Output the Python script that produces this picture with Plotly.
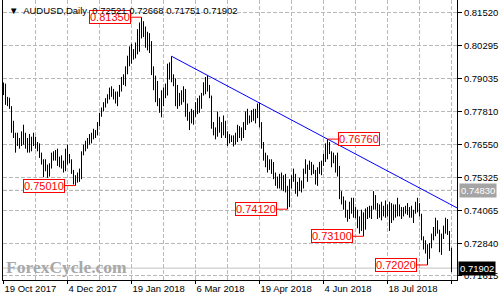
import plotly.graph_objects as go

# ---------------- data ----------------
date_labels = ["19 Oct 2017", "4 Dec 2017", "19 Jan 2018", "6 Mar 2018",
               "19 Apr 2018", "4 Jun 2018", "18 Jul 2018", "31 Aug 2018"]
date_label_idx = [0, 32, 64, 96, 128, 160, 192, 224]

lows = [
    0.7842, 0.7805, 0.7800, 0.7790, 0.7700, 0.7680, 0.7625, 0.7650, 0.7640, 0.7650,
    0.7655, 0.7640, 0.7625, 0.7625, 0.7630, 0.7650, 0.7640, 0.7630, 0.7605, 0.7580,
    0.7532, 0.7555, 0.7530, 0.7535, 0.7565, 0.7595, 0.7595, 0.7575, 0.7570, 0.7565,
    0.7550, 0.7555, 0.7580, 0.7585, 0.7545, 0.7505, 0.7501, 0.7512, 0.7515, 0.7525,
    0.7615, 0.7630, 0.7640, 0.7655, 0.7660, 0.7675, 0.7680, 0.7690, 0.7725, 0.7760,
    0.7780, 0.7795, 0.7810, 0.7825, 0.7835, 0.7825, 0.7810, 0.7800, 0.7835, 0.7855,
    0.7880, 0.7875, 0.7920, 0.7950, 0.7960, 0.7975, 0.7980, 0.7995, 0.8005, 0.8055,
    0.8060, 0.8020, 0.8010, 0.8000, 0.7917, 0.7860, 0.7815, 0.7800, 0.7775, 0.7758,
    0.7800, 0.7830, 0.7840, 0.7900, 0.7890, 0.7875, 0.7800, 0.7790, 0.7800, 0.7805,
    0.7815, 0.7760, 0.7745, 0.7710, 0.7735, 0.7730, 0.7760, 0.7770, 0.7775, 0.7790,
    0.7840, 0.7845, 0.7855, 0.7830, 0.7715, 0.7690, 0.7675, 0.7685, 0.7700, 0.7680,
    0.7690, 0.7680, 0.7650, 0.7660, 0.7665, 0.7648, 0.7655, 0.7665, 0.7680, 0.7670,
    0.7680, 0.7710, 0.7730, 0.7735, 0.7740, 0.7745, 0.7735, 0.7755, 0.7720, 0.7640,
    0.7595, 0.7570, 0.7550, 0.7560, 0.7545, 0.7525, 0.7500, 0.7490, 0.7490, 0.7485,
    0.7480, 0.7475, 0.7412, 0.7420, 0.7490, 0.7515, 0.7470, 0.7460, 0.7480, 0.7475,
    0.7490, 0.7545, 0.7515, 0.7560, 0.7540, 0.7545, 0.7505, 0.7500, 0.7545, 0.7540,
    0.7575, 0.7590, 0.7600, 0.7620, 0.7570, 0.7585, 0.7550, 0.7535, 0.7450, 0.7430,
    0.7410, 0.7380, 0.7365, 0.7375, 0.7395, 0.7380, 0.7378, 0.7340, 0.7320, 0.7330,
    0.7310, 0.7335, 0.7375, 0.7380, 0.7375, 0.7410, 0.7410, 0.7375, 0.7380, 0.7370,
    0.7385, 0.7380, 0.7385, 0.7330, 0.7360, 0.7370, 0.7380, 0.7385, 0.7385, 0.7375,
    0.7385, 0.7395, 0.7390, 0.7380, 0.7380, 0.7360, 0.7395, 0.7400, 0.7385, 0.7295,
    0.7260, 0.7245, 0.7202, 0.7225, 0.7265, 0.7295, 0.7310, 0.7320, 0.7250, 0.7240,
    0.7300, 0.7320, 0.7315, 0.7255, 0.71751,
]
highs = [
    0.7889, 0.7885, 0.7835, 0.7832, 0.7800, 0.7745, 0.7700, 0.7700, 0.7680, 0.7705,
    0.7730, 0.7700, 0.7680, 0.7695, 0.7685, 0.7700, 0.7685, 0.7665, 0.7660, 0.7625,
    0.7600, 0.7600, 0.7580, 0.7585, 0.7625, 0.7630, 0.7635, 0.7640, 0.7610, 0.7615,
    0.7595, 0.7640, 0.7655, 0.7620, 0.7600, 0.7560, 0.7540, 0.7550, 0.7565, 0.7630,
    0.7655, 0.7670, 0.7680, 0.7695, 0.7700, 0.7715, 0.7710, 0.7740, 0.7775, 0.7795,
    0.7815, 0.7830, 0.7845, 0.7870, 0.7875, 0.7865, 0.7855, 0.7855, 0.7880, 0.7910,
    0.7920, 0.7950, 0.7990, 0.8025, 0.8035, 0.8015, 0.8040, 0.8090, 0.8115, 0.8135,
    0.8120, 0.8100, 0.8080, 0.8075, 0.8045, 0.7950, 0.7915, 0.7895, 0.7830, 0.7860,
    0.7870, 0.7885, 0.7960, 0.7965, 0.7988, 0.7920, 0.7905, 0.7880, 0.7850, 0.7860,
    0.7875, 0.7865, 0.7810, 0.7778, 0.7790, 0.7785, 0.7815, 0.7830, 0.7840, 0.7850,
    0.7890, 0.7910, 0.7917, 0.7880, 0.7840, 0.7740, 0.7720, 0.7780, 0.7760, 0.7740,
    0.7765, 0.7745, 0.7705, 0.7695, 0.7690, 0.7690, 0.7700, 0.7730, 0.7725, 0.7720,
    0.7740, 0.7780, 0.7790, 0.7765, 0.7785, 0.7790, 0.7790, 0.7810, 0.7813, 0.7740,
    0.7665, 0.7625, 0.7615, 0.7600, 0.7600, 0.7590, 0.7550, 0.7535, 0.7545, 0.7550,
    0.7540, 0.7545, 0.7500, 0.7525, 0.7540, 0.7565, 0.7545, 0.7515, 0.7530, 0.7520,
    0.7565, 0.7600, 0.7580, 0.7595, 0.7590, 0.7580, 0.7560, 0.7570, 0.7590, 0.7595,
    0.7620, 0.7660, 0.7676, 0.7665, 0.7630, 0.7625, 0.7615, 0.7625, 0.7575, 0.7480,
    0.7460, 0.7445, 0.7410, 0.7440, 0.7455, 0.7455, 0.7420, 0.7410, 0.7385, 0.7410,
    0.7400, 0.7415, 0.7420, 0.7425, 0.7425, 0.7480, 0.7465, 0.7435, 0.7430, 0.7440,
    0.7425, 0.7445, 0.7430, 0.7440, 0.7435, 0.7430, 0.7430, 0.7455, 0.7430, 0.7420,
    0.7420, 0.7425, 0.7435, 0.7420, 0.7425, 0.7410, 0.7440, 0.7455, 0.7435, 0.7395,
    0.7310, 0.7295, 0.7280, 0.7285, 0.7320, 0.7345, 0.7380, 0.7370, 0.7335, 0.7320,
    0.7350, 0.7380, 0.7375, 0.7330, 0.72668,
]

price_ticks = [0.81520, 0.80295, 0.79035, 0.77810, 0.76550,
               0.75325, 0.74065, 0.72840, 0.71615]

swing_idx = [69, 36, 142, 162, 180, 212]
swing_val = [0.81350, 0.75010, 0.74120, 0.76760, 0.73100, 0.72020]
swing_side = [-1, -1, -1, 1, -1, -1]

trend_idx = [84, 162]
trend_val = [0.7988, 0.7676]

level_val = 0.74830
last_ohlc = [0.72521, 0.72668, 0.71751, 0.71902]
symbol = "AUDUSD,Daily"
watermark = "ForexCycle.com"

# ---------------- figure ----------------
X_MIN, X_MAX = -0.25, 226.75
Y_MIN, Y_MAX = 0.71454, 0.81998
FONT = "Liberation Sans"

xs, ys = [], []
for i, (lo, hi) in enumerate(zip(lows, highs)):
    xs += [i, i, None]
    ys += [lo, hi, None]

fig = go.Figure()
fig.add_trace(go.Scatter(x=xs, y=ys, mode="lines",
                         line=dict(color="black", width=1),
                         hoverinfo="skip", showlegend=False))

slope = (trend_val[1] - trend_val[0]) / (trend_idx[1] - trend_idx[0])
trend_end_y = trend_val[0] + slope * (X_MAX - trend_idx[0])
fig.add_trace(go.Scatter(x=[trend_idx[0], X_MAX], y=[trend_val[0], trend_end_y],
                         mode="lines", line=dict(color="#0000ff", width=1),
                         hoverinfo="skip", showlegend=False))

grid = "#b8b8b8"
fig.update_layout(
    width=500, height=300,
    margin=dict(l=3, r=43, t=0, b=20),
    paper_bgcolor="white", plot_bgcolor="white",
    showlegend=False,
    font=dict(family=FONT, size=9.5, color="black"),
    xaxis=dict(
        range=[X_MIN, X_MAX], showline=True, linecolor="black", linewidth=1,
        tickmode="array", tickvals=date_label_idx, ticktext=date_labels,
        ticks="outside", ticklen=3, tickcolor="black",
        ticklabelposition="outside right",
        showgrid=True, gridcolor=grid, griddash="4px,2px", gridwidth=1,
        minor=dict(tickmode="linear", tick0=0, dtick=16, showgrid=True,
                   gridcolor=grid, griddash="4px,2px", ticks=""),
        zeroline=False, tickfont=dict(size=9.5),
    ),
    yaxis=dict(
        range=[Y_MIN, Y_MAX], side="right", showline=True, mirror=True,
        linecolor="black", linewidth=1,
        tickmode="array", tickvals=price_ticks,
        ticktext=[f"{v:.5f}" for v in price_ticks],
        ticks="outside", ticklen=4, tickcolor="black",
        showgrid=True, gridcolor=grid, griddash="4px,2px", gridwidth=1,
        zeroline=False, tickfont=dict(size=9.5),
    ),
)

# horizontal level and last-price line
fig.add_shape(type="line", xref="paper", x0=0, x1=1, y0=level_val, y1=level_val,
              line=dict(color="#a8a8a8", width=1, dash="4px,2px"), layer="below")
fig.add_shape(type="line", xref="paper", x0=0, x1=1, y0=last_ohlc[3], y1=last_ohlc[3],
              line=dict(color="#c0c0c0", width=1), layer="below")

# right axis value tags
fig.add_annotation(xref="paper", x=1, y=level_val, xanchor="left", xshift=2,
                   text=f"{level_val:.5f}", showarrow=False, bgcolor="#a4a4a4",
                   font=dict(color="white", size=9.5), borderpad=1)
fig.add_annotation(xref="paper", x=1, y=last_ohlc[3], xanchor="left", xshift=1,
                   text=f"{last_ohlc[3]:.5f}", showarrow=False, bgcolor="black",
                   font=dict(color="white", size=9.5), borderpad=1)

# swing labels
for i, v, s in zip(swing_idx, swing_val, swing_side):
    fig.add_annotation(x=i, y=v, text=f"{v:.5f}", showarrow=True,
                       arrowhead=0, arrowwidth=1, arrowcolor="#ff0000",
                       ax=31.5 * s, ay=0, standoff=0,
                       bgcolor="white", bordercolor="#ff0000", borderwidth=1,
                       borderpad=0, font=dict(color="#ff0000", size=11))

# title
title = "\u25bc  " + symbol + "  " + " ".join(f"{v:.5f}" for v in last_ohlc)
fig.add_annotation(xref="paper", yref="paper", x=0.008, y=1, yshift=-3,
                   xanchor="left", yanchor="top", text=title, showarrow=False,
                   font=dict(size=9.5, color="black"))

# watermark
fig.add_annotation(xref="paper", yref="paper", x=0.003, y=0.046,
                   xanchor="left", yanchor="middle", text=watermark,
                   showarrow=False,
                   font=dict(family="Liberation Serif", size=17.5, color="#a8a8a8",
                             weight="bold"))

fig.write_html("out.html")
